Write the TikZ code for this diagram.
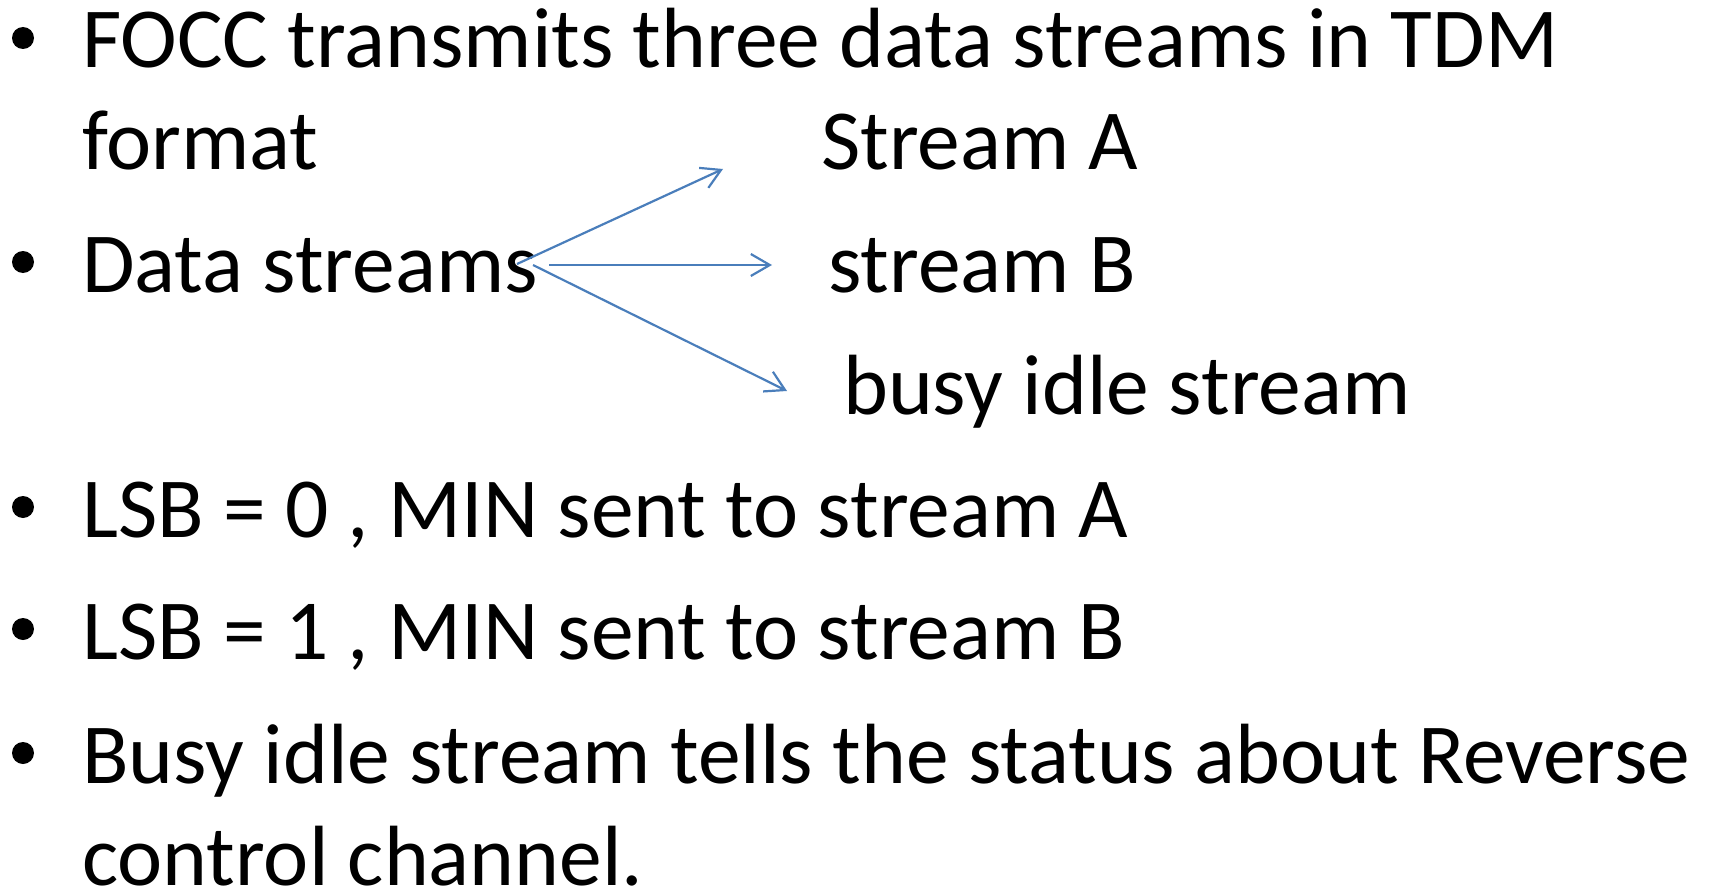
\documentclass[tikz,border=0pt]{standalone}
\usepackage{fontspec}
\setmainfont{Carlito}
\usetikzlibrary{arrows.meta}
\definecolor{arrowblue}{RGB}{74,126,187}
\begin{document}
\begin{tikzpicture}[x=1pt,y=-1pt,
  txt/.style={anchor=base west, inner sep=0pt, text depth=0pt, font=\fontsize{85.5}{100}\selectfont},
  bul/.style={circle, fill=black, inner sep=0pt, minimum size=22pt},
  conn/.style={draw=arrowblue, line width=2.2pt, -{Straight Barb[length=19pt,width=22pt]}}]
\useasboundingbox (0,0) rectangle (1709,891);
% bullets
\node[bul] (b1) at (23,38) {};
\node[bul] (b2) at (23,262) {};
\node[bul] (b3) at (23,507) {};
\node[bul] (b4) at (23,629) {};
\node[bul] (b5) at (23,753) {};
% text
\node[txt] (t1) at (82,68) {FOCC transmits three data streams in TDM};
\node[txt] (t2) at (82,169) {format};
\node[txt] (sa) at (821,169) {Stream A};
\node[txt] (ds) at (82,292) {Data streams};
\node[txt] (sb) at (828,292) {stream B};
\node[txt] (bi) at (843,414) {busy idle stream};
\node[txt] (t4) at (82,537) {LSB = 0 , MIN sent to stream A};
\node[txt] (t5) at (82,659) {LSB = 1 , MIN sent to stream B};
\node[txt] (t6) at (82,783) {Busy idle stream tells the status about Reverse};
\node[txt] (t7) at (82,885) {control channel.};
% arrow coordinates
\coordinate (s1) at (517,264);
\coordinate (e1) at (723,169);
\coordinate (s2) at (549,265);
\coordinate (e2) at (772,265);
\coordinate (s3) at (533,265);
\coordinate (e3) at (787,391);
\draw[conn] (s1) -- (e1);
\draw[conn] (s2) -- (e2);
\draw[conn] (s3) -- (e3);
\end{tikzpicture}
\end{document}
